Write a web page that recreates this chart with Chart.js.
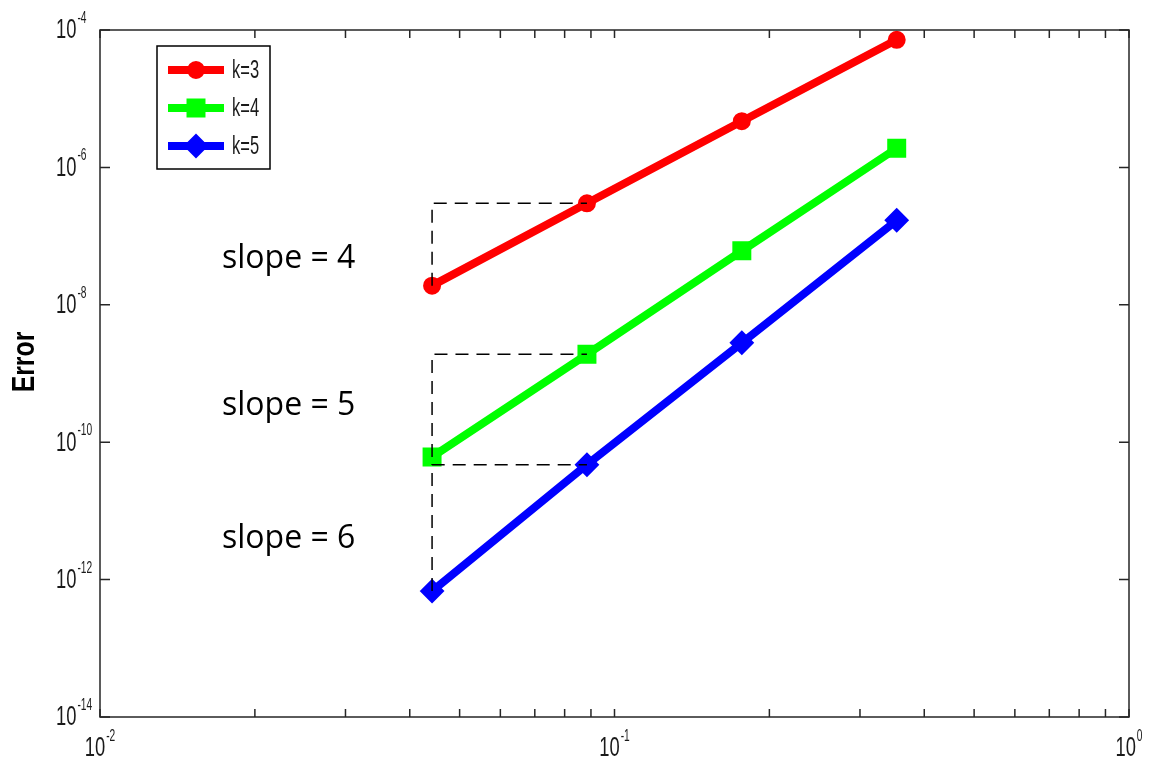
<!DOCTYPE html>
<html>
<head>
<meta charset="utf-8">
<script src="https://cdn.jsdelivr.net/npm/chart.js@4.4.0/dist/chart.umd.min.js"></script>
<style>
  html, body { margin: 0; padding: 0; background: #fff; }
  #wrap { width: 1155px; height: 767px; }
</style>
</head>
<body>
<div id="wrap"><canvas id="errChart"></canvas></div>
<script>
// mesh size h and errors for each polynomial degree k
const h = [0.3536, 0.1768, 0.0884, 0.0442];
const errK3 = [7.2e-5, 4.7e-6, 3.0e-7, 1.9e-8];
const errK4 = [1.9e-6, 6.1e-8, 1.9e-9, 6.1e-11];
const errK5 = [1.7e-7, 2.8e-9, 4.7e-11, 6.8e-13];
const seriesLabels = ["k=3", "k=4", "k=5"];
const slopeLabels = ["slope = 4", "slope = 5", "slope = 6"];
const xTickExp = [-2, -1, 0];
const yTickExp = [-4, -6, -8, -10, -12, -14];

const colors = ["#ff0000", "#00ff00", "#0000ff"];
const styles = ["circle", "rect", "rectRot"];
const radii = [8, 12, 11];
const allErr = [errK3, errK4, errK5];

function pts(ys) {
  return h.map((x, i) => ({ x: x, y: ys[i] }));
}

// slope triangle: from the finest point up to the level of the next one, then across
function guide(ys) {
  return [
    { x: h[3], y: ys[3] },
    { x: h[3], y: ys[2] },
    { x: h[2], y: ys[2] },
  ];
}

const datasets = [];
allErr.forEach((ys) => {
  datasets.push({
    label: "guide",
    data: guide(ys),
    borderColor: "#000",
    borderWidth: 1.5,
    borderDash: [13, 8],
    pointRadius: 0,
    fill: false,
    order: 0,
  });
});
allErr.forEach((ys, i) => {
  datasets.push({
    label: seriesLabels[i],
    data: pts(ys),
    borderColor: colors[i],
    backgroundColor: colors[i],
    borderWidth: 8,
    pointStyle: styles[i],
    pointRadius: radii[i],
    pointBorderWidth: 2,
    pointBackgroundColor: colors[i],
    pointBorderColor: colors[i],
    fill: false,
    order: 1,
  });
});

// squeezed text like the original figure's tick font
function sqText(ctx, txt, x, y, sx, align) {
  ctx.save();
  ctx.translate(x, y);
  ctx.scale(sx, 1);
  ctx.textAlign = align || "left";
  ctx.fillText(txt, 0, 0);
  ctx.restore();
  return ctx.measureText(txt).width * sx;
}

const baseFont = "27px 'Liberation Sans', Arial, sans-serif";
const expFont = "17px 'Liberation Sans', Arial, sans-serif";
const SX = 0.68;
const SXE = 0.6;

function widthOf(ctx, font, txt, sx) {
  ctx.font = font;
  return ctx.measureText(txt).width * sx;
}

const decorations = {
  id: "decorations",
  afterDraw(chart) {
    const ctx = chart.ctx;
    const a = chart.chartArea;
    const xs = chart.scales.x;
    const ys = chart.scales.y;
    ctx.save();

    // box
    ctx.strokeStyle = "#262626";
    ctx.lineWidth = 1.5;
    ctx.strokeRect(a.left, a.top, a.right - a.left, a.bottom - a.top);

    // x ticks (minor at every integer multiple), inward top and bottom
    ctx.beginPath();
    for (let e = -2; e < 0; e++) {
      for (let m = 1; m <= 10; m++) {
        const px = xs.getPixelForValue(m * Math.pow(10, e));
        ctx.moveTo(px, a.bottom);
        ctx.lineTo(px, a.bottom - 8);
        ctx.moveTo(px, a.top);
        ctx.lineTo(px, a.top + 8);
      }
    }
    // y ticks on even decades, left and right
    yTickExp.forEach((e) => {
      const py = ys.getPixelForValue(Math.pow(10, e));
      ctx.moveTo(a.left, py);
      ctx.lineTo(a.left + 10, py);
      ctx.moveTo(a.right, py);
      ctx.lineTo(a.right - 10, py);
    });
    ctx.stroke();

    // tick labels
    ctx.fillStyle = "#1a1a1a";
    yTickExp.forEach((e) => {
      const py = ys.getPixelForValue(Math.pow(10, e));
      ctx.font = baseFont;
      ctx.textBaseline = "middle";
      const w = sqText(ctx, "10", 56, py + 1, SX);
      ctx.font = expFont;
      ctx.textBaseline = "alphabetic";
      sqText(ctx, String(e), 56 + w + 1, py - 7, SXE);
    });
    xTickExp.forEach((e) => {
      const px = xs.getPixelForValue(Math.pow(10, e));
      const wb = widthOf(ctx, baseFont, "10", SX);
      const we = widthOf(ctx, expFont, String(e), SXE);
      const x0 = px - (wb + we + 1) / 2;
      ctx.font = baseFont;
      ctx.textBaseline = "middle";
      sqText(ctx, "10", x0, 749, SX);
      ctx.font = expFont;
      ctx.textBaseline = "alphabetic";
      sqText(ctx, String(e), x0 + wb + 1, 741, SXE);
    });

    // y axis title
    ctx.save();
    ctx.translate(25, 362);
    ctx.rotate(-Math.PI / 2);
    ctx.scale(0.8, 1);
    ctx.font = "bold 31px 'Liberation Sans', Arial, sans-serif";
    ctx.fillStyle = "#000";
    ctx.textAlign = "center";
    ctx.textBaseline = "middle";
    ctx.fillText("Error", 0, 0);
    ctx.restore();

    // slope annotations
    ctx.font = "32px 'Open Sans', sans-serif";
    ctx.fillStyle = "#000";
    ctx.textAlign = "left";
    ctx.textBaseline = "alphabetic";
    const slopeY = [268, 415, 548];
    slopeLabels.forEach((s, i) => ctx.fillText(s, 222, slopeY[i]));

    // legend
    ctx.fillStyle = "#fff";
    ctx.fillRect(157, 46, 113, 123);
    ctx.strokeStyle = "#000";
    ctx.lineWidth = 1.5;
    ctx.strokeRect(157, 46, 113, 123);
    seriesLabels.forEach((lab, i) => {
      const ly = 70 + i * 38;
      ctx.strokeStyle = colors[i];
      ctx.fillStyle = colors[i];
      ctx.lineWidth = 8;
      ctx.beginPath();
      ctx.moveTo(168, ly);
      ctx.lineTo(224, ly);
      ctx.stroke();
      ctx.lineWidth = 2;
      Chart.helpers.drawPoint(ctx, { pointStyle: styles[i], radius: radii[i], borderWidth: 2, rotation: 0 }, 196, ly);
      ctx.fillStyle = "#1a1a1a";
      ctx.font = "25px 'Liberation Sans', Arial, sans-serif";
      ctx.textBaseline = "middle";
      sqText(ctx, lab, 232, ly + 1, 0.66);
    });

    ctx.restore();
  },
};

const ctx = document.getElementById("errChart").getContext("2d");
new Chart(ctx, {
  type: "line",
  data: { datasets: datasets },
  options: {
    responsive: true,
    maintainAspectRatio: false,
    animation: false,
    layout: { padding: { left: 100, right: 26, top: 30, bottom: 50 } },
    plugins: {
      legend: { display: false },
      tooltip: { enabled: false },
    },
    scales: {
      x: { type: "logarithmic", min: 0.01, max: 1, display: false },
      y: { type: "logarithmic", min: 1e-14, max: 1e-4, display: false },
    },
  },
  plugins: [decorations],
});
</script>
</body>
</html>
